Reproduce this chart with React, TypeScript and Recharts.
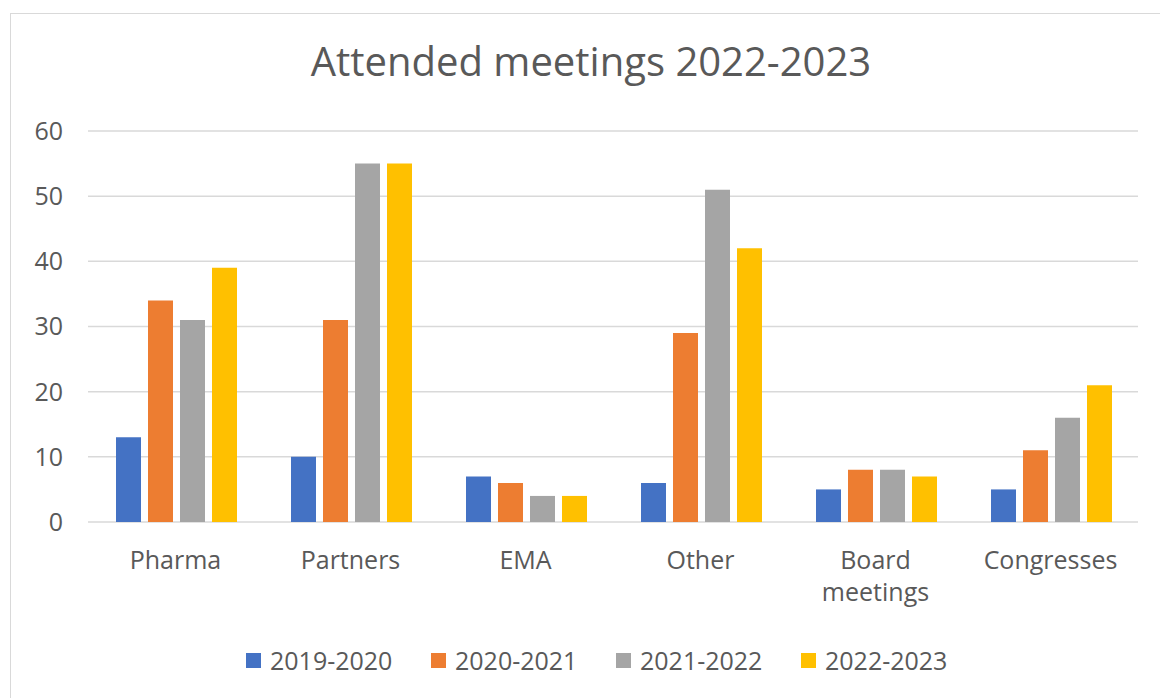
import React from "react";
import { BarChart, Bar, XAxis, YAxis, CartesianGrid, Legend } from "recharts";

const categories = ["Pharma", "Partners", "EMA", "Other", "Board meetings", "Congresses"];
const seriesNames = ["2019-2020", "2020-2021", "2021-2022", "2022-2023"];
const s2019 = [13, 10, 7, 6, 5, 5];
const s2020 = [34, 31, 6, 29, 8, 11];
const s2021 = [31, 55, 4, 51, 8, 16];
const s2022 = [39, 55, 4, 42, 7, 21];
const yTicks = [0, 10, 20, 30, 40, 50, 60];
const colors = ["#4472C4", "#ED7D31", "#A5A5A5", "#FFC000"];
const title = "Attended meetings 2022-2023";

const seriesValues = [s2019, s2020, s2021, s2022];
const data = categories.map((c, i) => {
  const row: Record<string, string | number> = { name: c };
  seriesNames.forEach((s, k) => {
    row[s] = seriesValues[k][i];
  });
  return row;
});

const FONT = "'Open Sans', sans-serif";
const TEXT = "#595959";

const CategoryTick = (props: any) => {
  const { x, y, payload } = props;
  const words: string[] = String(payload.value).split(" ");
  return (
    <text x={x} y={y} textAnchor="middle" fill={TEXT} fontSize={25} fontFamily={FONT}>
      {words.map((w, i) => (
        <tspan key={i} x={x} dy={i === 0 ? 47 : 32}>
          {w}
        </tspan>
      ))}
    </text>
  );
};

const LegendContent = () => (
  <div style={{ display: "flex", fontFamily: FONT, fontSize: 25, lineHeight: "34px", color: TEXT }}>
    {seriesNames.map((s, i) => (
      <div key={s} style={{ display: "flex", alignItems: "center", width: 185 }}>
        <span style={{ display: "inline-block", width: 15, height: 15, background: colors[i], marginRight: 9 }} />
        <span>{s}</span>
      </div>
    ))}
  </div>
);

export default function App() {
  return (
    <div
      style={{
        position: "fixed",
        left: 0,
        top: 0,
        width: 1160,
        height: 698,
        overflow: "hidden",
        background: "#fff",
      }}
    >
      <div
        style={{
          position: "absolute",
          left: 10,
          top: 13,
          width: 1200,
          height: 760,
          border: "1.5px solid #d9d9d9",
          boxSizing: "border-box",
        }}
      />
      <div
        style={{
          position: "absolute",
          left: 10,
          top: 34,
          width: 1162,
          textAlign: "center",
          fontFamily: FONT,
          fontSize: 40,
          lineHeight: "54px",
          color: TEXT,
        }}
      >
        {title}
      </div>
      <div style={{ position: "absolute", left: 0, top: 0 }}>
        <BarChart
          width={1160}
          height={698}
          data={data}
          margin={{ top: 131, right: 22, bottom: 146, left: 0 }}
          barCategoryGap="16%"
          barGap={7}
        >
          <CartesianGrid vertical={false} stroke="#d9d9d9" strokeWidth={1.5} />
          <XAxis
            dataKey="name"
            height={30}
            axisLine={false}
            tickLine={false}
            tickSize={0}
            tickMargin={0}
            interval={0}
            tick={<CategoryTick />}
          />
          <YAxis
            width={88}
            domain={[0, 60]}
            ticks={yTicks}
            axisLine={false}
            tickLine={false}
            tickSize={0}
            tickMargin={25}
            tick={{ fill: TEXT, fontSize: 25, fontFamily: FONT }}
          />
          <Legend
            layout="horizontal"
            verticalAlign="middle"
            align="center"
            wrapperStyle={{ position: "absolute", left: 246, top: 643, width: 760, height: 34 }}
            content={<LegendContent />}
          />
          {seriesNames.map((s, i) => (
            <Bar key={s} dataKey={s} fill={colors[i]} isAnimationActive={false} />
          ))}
        </BarChart>
      </div>
    </div>
  );
}
